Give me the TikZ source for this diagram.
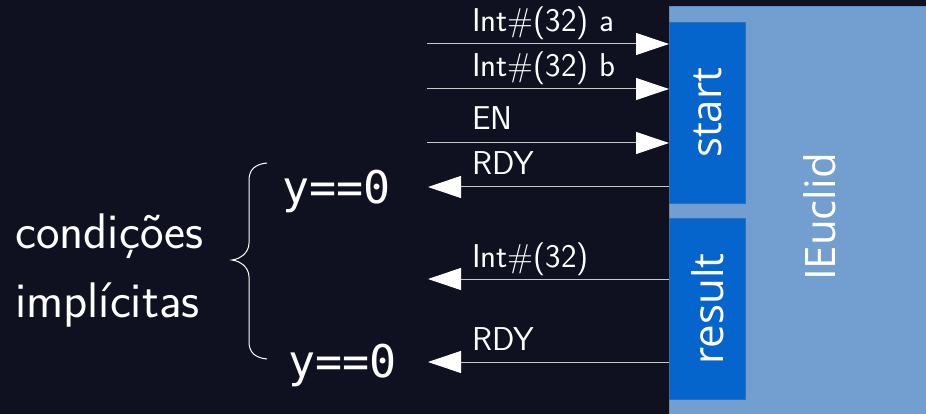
\documentclass[tikz,border=0pt]{standalone}
\usepackage{fontspec}
\usetikzlibrary{arrows.meta}
\newfontfamily\opensansfam{Open Sans}
\newfontfamily\dvmonofam{DejaVu Sans Mono}
\definecolor{bgnavy}{HTML}{0F1120}
\definecolor{outerblue}{HTML}{729FCF}
\definecolor{outeredge}{HTML}{5F8CC4}
\definecolor{portblue}{HTML}{0565CC}
\definecolor{portedge}{HTML}{2C6FBF}
\definecolor{wirecol}{HTML}{C8C8CC}
\tikzset{
  outerbox/.style={draw=outeredge, fill=outerblue, line width=0.8pt, anchor=north west, inner sep=0pt},
  portbox/.style={draw=portedge, fill=portblue, line width=0.8pt, anchor=north west, inner sep=0pt, minimum width=76pt, minimum height=181pt},
  boxtext/.style={text=white, rotate=90, font=\opensansfam\fontsize{42}{42}\selectfont, inner sep=0pt},
  wire/.style={draw=wirecol, line width=1pt, -{Triangle[length=33pt,width=22pt,fill=white,color=white]}},
  siglabel/.style={text=white, anchor=base west, font=\sffamily\fontsize{33}{33}\selectfont, inner sep=0pt},
  condlabel/.style={text=white, anchor=base west, font=\sffamily\fontsize{50}{50}\selectfont, inner sep=0pt},
  codelabel/.style={text=white, anchor=base west, font=\dvmonofam\fontsize{45}{45}\selectfont, inner sep=0pt},
}
\begin{document}
\begin{tikzpicture}[x=1pt, y=-1pt]
\useasboundingbox (0,0) rectangle (926,414);
\fill[bgnavy] (0,0) rectangle (926,414);
\clip (0,0) rectangle (926,414);
% boxes
\node[outerbox, minimum width=280pt, minimum height=430pt] (ieuclid) at (669,6) {};
\node[boxtext] (ieuclidtxt) at (820,217) {IEuclid};
\node[portbox] (start) at (669,22) {};
\node[boxtext] (starttxt) at (start.center) {start};
\node[portbox] (result) at (669,218) {};
\node[boxtext] (resulttxt) at (result.center) {result};
% free ends
\coordinate (ina) at (427,44);
\coordinate (inb) at (427,89);
\coordinate (inen) at (427,143);
\coordinate (outrdy) at (428,187);
\coordinate (outres) at (428,279);
\coordinate (outrdyb) at (428,362);
% wires
\draw[wire] (ina) -- (ina -| start.west);
\draw[wire] (inb) -- (inb -| start.west);
\draw[wire] (inen) -- (inen -| start.west);
\draw[wire] (outrdy -| start.west) -- (outrdy);
\draw[wire] (outres -| result.west) -- (outres);
\draw[wire] (outrdyb -| result.west) -- (outrdyb);
% labels
\node[siglabel] (la) at (472,32) {Int\#(32) a};
\node[siglabel] (lb) at (472,77) {Int\#(32) b};
\node[siglabel] (len) at (472,130) {EN};
\node[siglabel] (lrdy) at (472,175) {RDY};
\node[siglabel] (lres) at (472,267) {Int\#(32)};
\node[siglabel] (lrdyb) at (472,350) {RDY};
% conditions
\node[codelabel] (ytop) at (282,204) {y==0};
\node[codelabel] (ybot) at (288,377) {y==0};
\node[condlabel] (cond1) at (15,248) {condições};
\node[condlabel] (cond2) at (15,317) {implícitas};
% brace
\draw[white, line width=1pt]
  (267,163) .. controls (255,164) and (249,170) .. (249,180)
  -- (249,243) .. controls (249,253) and (240,259) .. (232,260)
  .. controls (240,261) and (249,267) .. (249,277)
  -- (249,342) .. controls (249,352) and (255,358) .. (267,359);
\end{tikzpicture}
\end{document}
